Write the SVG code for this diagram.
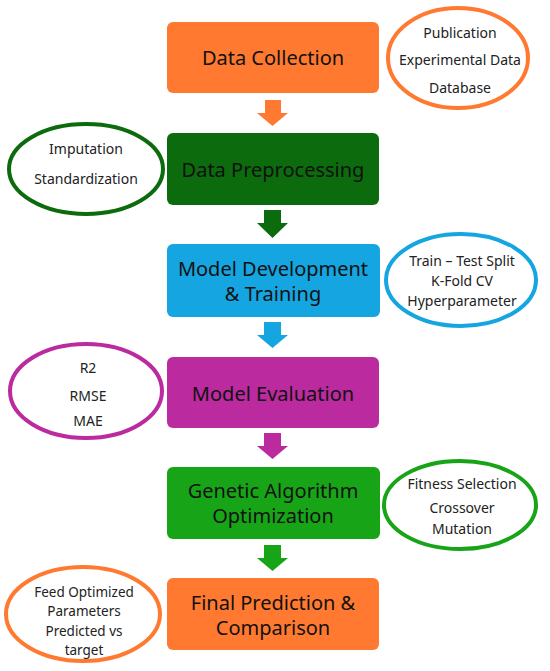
<svg xmlns="http://www.w3.org/2000/svg" width="550" height="671" viewBox="0 0 550 671">
<style>
.box{stroke:none}
.bt{font-family:"Noto Sans","Open Sans",sans-serif;font-size:20px;fill:#111;text-anchor:middle;dominant-baseline:central}
.et{font-family:"Noto Sans","Open Sans",sans-serif;font-size:14px;fill:#222;text-anchor:middle;dominant-baseline:central}
.sm{font-size:13.5px}
.el{fill:#fff;stroke-width:4}
</style>
<rect width="550" height="671" fill="#fff"/>
<g id="connectors">
<path d="M265,100 H281 V113 H288 L272.5,126 L257,113 H265 Z" fill="#FF7A30"/>
<path d="M264,210 H281 V223 H288 L272.5,238 L257,223 H264 Z" fill="#0C6B0C"/>
<path d="M264,322 H281 V335 H288 L272.5,348 L257,335 H264 Z" fill="#15A5E0"/>
<path d="M264,433 H281 V446 H288 L272.5,459 L257,446 H264 Z" fill="#BB2A9E"/>
<path d="M264,545 H281 V558 H288 L272.5,571 L257,558 H264 Z" fill="#17A517"/>
</g>
<g id="n1">
<rect class="box" x="167" y="22" width="212" height="71" rx="6" fill="#FF7A30"/>
<text class="bt" x="273" y="57">Data Collection</text>
</g>
<g id="e1">
<ellipse class="el" cx="458" cy="58" rx="70" ry="50" stroke="#FF7A30"/>
<text class="et" x="460" y="32">Publication</text>
<text class="et" x="460" y="59">Experimental Data</text>
<text class="et" x="460" y="87">Database</text>
</g>
<g id="n2">
<rect class="box" x="167" y="133" width="212" height="72" rx="6" fill="#0C6B0C"/>
<text class="bt" x="273" y="169">Data Preprocessing</text>
</g>
<g id="e2">
<ellipse class="el" cx="86" cy="169" rx="77" ry="45" stroke="#0C6B0C"/>
<text class="et" x="86" y="148">Imputation</text>
<text class="et" x="86" y="178">Standardization</text>
</g>
<g id="n3">
<rect class="box" x="167" y="244" width="213" height="73" rx="6" fill="#15A5E0"/>
<text class="bt" x="273" y="268">Model Development</text>
<text class="bt" x="273" y="293">&amp; Training</text>
</g>
<g id="e3">
<ellipse class="el" cx="461" cy="280" rx="75" ry="46" stroke="#15A5E0"/>
<text class="et" x="462" y="260">Train – Test Split</text>
<text class="et" x="462" y="280">K-Fold CV</text>
<text class="et" x="462" y="300">Hyperparameter</text>
</g>
<g id="n4">
<rect class="box" x="167" y="357" width="212" height="71" rx="6" fill="#BB2A9E"/>
<text class="bt" x="273" y="393">Model Evaluation</text>
</g>
<g id="e4">
<ellipse class="el" cx="86" cy="391" rx="76" ry="47" stroke="#BB2A9E"/>
<text class="et" x="88" y="367">R2</text>
<text class="et" x="88" y="395">RMSE</text>
<text class="et" x="88" y="420">MAE</text>
</g>
<g id="n5">
<rect class="box" x="167" y="467" width="213" height="72" rx="6" fill="#17A517"/>
<text class="bt" x="273" y="490">Genetic Algorithm</text>
<text class="bt" x="273" y="515">Optimization</text>
</g>
<g id="e5">
<ellipse class="el" cx="460" cy="505" rx="76" ry="44" stroke="#17A517"/>
<text class="et" x="462" y="483">Fitness Selection</text>
<text class="et" x="462" y="507">Crossover</text>
<text class="et" x="462" y="528">Mutation</text>
</g>
<g id="n6">
<rect class="box" x="167" y="578" width="212" height="72" rx="6" fill="#FF7A30"/>
<text class="bt" x="273" y="602">Final Prediction &amp;</text>
<text class="bt" x="273" y="627">Comparison</text>
</g>
<g id="e6">
<ellipse class="el" cx="83" cy="614" rx="77" ry="47" stroke="#FF7A30"/>
<text class="et sm" x="84" y="592">Feed Optimized</text>
<text class="et sm" x="84" y="611">Parameters</text>
<text class="et sm" x="84" y="631">Predicted vs</text>
<text class="et sm" x="84" y="650">target</text>
</g>
</svg>
